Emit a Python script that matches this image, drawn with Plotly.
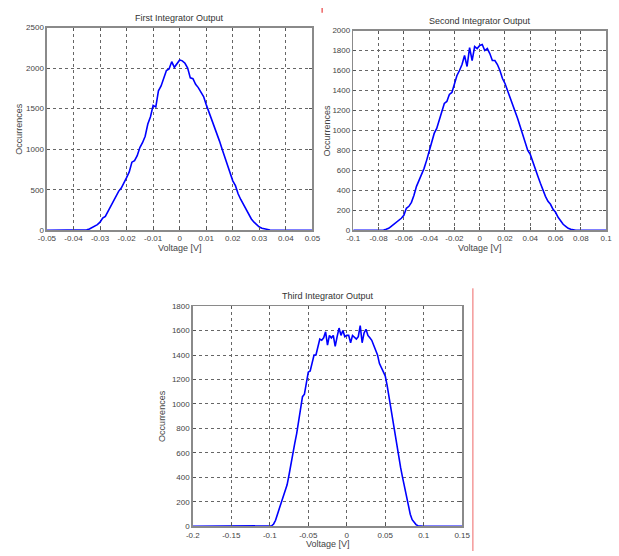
import numpy as np
import plotly.graph_objects as go

W, H = 619, 556

# ---------------- data ----------------
first_start, first_step = -0.05, 0.001
first_counts = (
    [0] * 14
    + [2, 5, 15, 30, 50, 70, 100, 150, 170, 230, 300, 350, 420, 480, 520, 580, 650, 720,
       840, 860, 920, 1020, 1080, 1160, 1310, 1400, 1540, 1520, 1720, 1780, 1880, 1970,
       1990, 2080, 2010, 2060]
    + [2100, 2090, 2060, 2000, 1880, 1870, 1800, 1760, 1700, 1650, 1550, 1460, 1380, 1300,
       1200, 1100, 1000, 900, 800, 700, 610, 550, 450, 380, 320, 250, 190, 140, 100, 70,
       40, 25, 15, 8, 3, 1]
    + [0] * 15
)

second_start, second_step = -0.1, 0.002
second_counts = (
    [0] * 12
    + [3, 10, 20, 40, 60, 80, 100, 120, 150, 220, 240, 280, 350, 440, 500, 560, 620, 700,
       790, 870, 970, 1020, 1100, 1200, 1270, 1290, 1360, 1380, 1480, 1550, 1600, 1660,
       1750, 1640, 1830, 1700, 1840, 1820]
    + [1850, 1860, 1800, 1820, 1770, 1700, 1700, 1660, 1600, 1520, 1470, 1400, 1350, 1260,
       1200, 1120, 1040, 960, 880, 800, 760, 680, 600, 540, 470, 400, 340, 290, 260, 210,
       180, 130, 90, 60, 40, 20, 10, 4]
    + [0] * 13
)

third_start, third_step = -0.2, 0.0025
third_counts = (
    [0] * 41
    + [5, 20, 50, 100, 150, 200, 240, 280, 340, 420, 520, 600, 680, 760, 860, 980, 1060,
       1080, 1180, 1260, 1270, 1330, 1400, 1400, 1460, 1530, 1520, 1540, 1590, 1480, 1560,
       1540, 1560, 1470, 1550, 1620, 1560, 1600, 1550]
    + [1560]
    + [1560, 1500, 1560, 1540, 1530, 1550, 1640, 1500, 1580, 1610, 1560, 1540, 1520, 1480,
       1440, 1400, 1330, 1300, 1270, 1230, 1150, 1050, 950, 870, 780, 680, 580, 480, 400,
       320, 240, 170, 100, 55, 30, 15, 6, 2, 0]
    + [0] * 21
)

first_xticks = [-0.05, -0.04, -0.03, -0.02, -0.01, 0, 0.01, 0.02, 0.03, 0.04, 0.05]
first_xlabels = ["-0.05", "-0.04", "-0.03", "-0.02", "-0.01", "0", "0.01", "0.02", "0.03", "0.04", "0.05"]
first_yticks = [0, 500, 1000, 1500, 2000, 2500]

second_xticks = [-0.1, -0.08, -0.06, -0.04, -0.02, 0, 0.02, 0.04, 0.06, 0.08, 0.1]
second_xlabels = ["-0.1", "-0.08", "-0.06", "-0.04", "-0.02", "0", "0.02", "0.04", "0.06", "0.08", "0.1"]
second_yticks = [0, 200, 400, 600, 800, 1000, 1200, 1400, 1600, 1800, 2000]

third_xticks = [-0.2, -0.15, -0.1, -0.05, 0, 0.05, 0.1, 0.15]
third_xlabels = ["-0.2", "-0.15", "-0.1", "-0.05", "0", "0.05", "0.1", "0.15"]
third_yticks = [0, 200, 400, 600, 800, 1000, 1200, 1400, 1600, 1800]

titles = ["First Integrator Output", "Second Integrator Output", "Third Integrator Output"]
x_title = "Voltage [V]"
y_title = "Occurrences"


def volts(start, step, counts):
    return np.round(start + step * np.arange(len(counts)), 6)


# ---------------- layout geometry (pixels) ----------------
panels = [
    dict(l=39, r=312, t=24, b=230, title_y=14, xt_y=248, yt_x=10),
    dict(l=354, r=614, t=27, b=230, title_y=17, xt_y=248, yt_x=327),
    dict(l=189, r=466, t=307, b=531, title_y=297, xt_y=549, yt_x=158),
]

FONT = "Liberation Sans, Arial, sans-serif"
fig = go.Figure()

series = [
    (volts(first_start, first_step, first_counts), first_counts),
    (volts(second_start, second_step, second_counts), second_counts),
    (volts(third_start, third_step, third_counts), third_counts),
]
xcfg = [(first_xticks, first_xlabels, [-0.05, 0.05]),
        (second_xticks, second_xlabels, [-0.1, 0.1]),
        (third_xticks, third_xlabels, [-0.2, 0.15])]
ycfg = [(first_yticks, [0, 2500]), (second_yticks, [0, 2000]), (third_yticks, [0, 1800])]

annotations = []
for i, (p, (xs, ys)) in enumerate(zip(panels, series)):
    n = "" if i == 0 else str(i + 1)
    fig.add_trace(go.Scatter(x=xs, y=ys, mode="lines",
                             line=dict(color="#0000FF", width=1.6),
                             xaxis="x" + n, yaxis="y" + n, showlegend=False,
                             hoverinfo="skip"))
    tv, tt, xr = xcfg[i]
    yv, yr = ycfg[i]
    common = dict(showline=True, linecolor="#8a8a8a", linewidth=1.5, mirror="ticks",
                  ticks="inside", ticklen=3, tickcolor="#555", tickwidth=1,
                  showgrid=True, gridcolor="#666", griddash="dot", gridwidth=1,
                  zeroline=False, tickfont=dict(family=FONT, size=8, color="#444"))
    fig.update_layout(**{
        "xaxis" + n: dict(domain=[p["l"] / W, p["r"] / W], range=xr, tickvals=tv, ticktext=tt,
                          anchor="y" + n, **common),
        "yaxis" + n: dict(domain=[1 - p["b"] / H, 1 - p["t"] / H], range=yr, tickvals=yv,
                          anchor="x" + n, **common),
    })
    cx = (p["l"] + p["r"]) / 2 / W
    cy = 1 - (p["t"] + p["b"]) / 2 / H
    annotations.append(dict(text=titles[i], x=cx, y=1 - p["title_y"] / H, xref="paper", yref="paper",
                            xanchor="center", yanchor="middle", showarrow=False,
                            font=dict(family=FONT, size=9, color="#333")))
    annotations.append(dict(text=x_title, x=cx, y=1 - p["xt_y"] / H, xref="paper", yref="paper",
                            xanchor="center", yanchor="middle", showarrow=False,
                            font=dict(family=FONT, size=9, color="#444")))
    annotations.append(dict(text=y_title, x=p["yt_x"] / W, y=cy, xref="paper", yref="paper",
                            xanchor="center", yanchor="middle", showarrow=False, textangle=-90,
                            font=dict(family=FONT, size=9, color="#444")))

shapes = [
    dict(type="line", xref="paper", yref="paper", x0=477 / W, x1=477 / W, y0=0, y1=1 - 289 / H,
         line=dict(color="#ee6666", width=1)),
    dict(type="line", xref="paper", yref="paper", x0=322 / W, x1=322 / W, y0=1 - 4 / H, y1=1 - 9 / H,
         line=dict(color="#ee6666", width=1.5)),
]

fig.update_layout(width=W, height=H, margin=dict(l=0, r=0, t=0, b=0),
                  paper_bgcolor="white", plot_bgcolor="white",
                  annotations=annotations, shapes=shapes, showlegend=False)

fig.write_html("out.html", config={"displayModeBar": False, "staticPlot": True},
               post_script="document.body.style.margin='0';document.body.style.overflow='hidden';")
